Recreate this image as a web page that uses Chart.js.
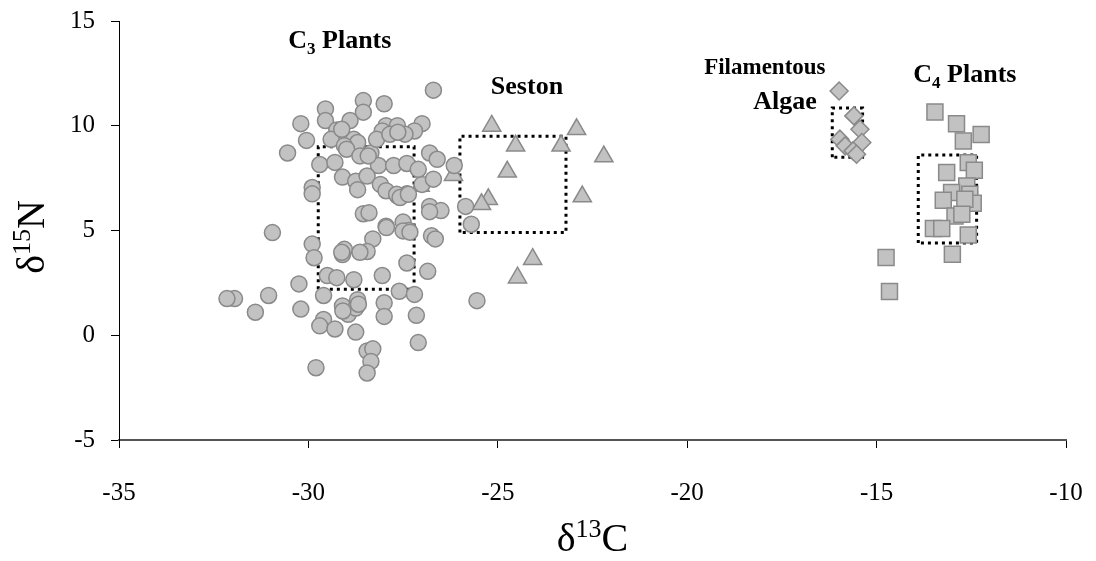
<!DOCTYPE html>
<html>
<head>
    <meta charset="utf-8"/>
    <title>Stable isotopes</title>
    <script src="https://cdn.jsdelivr.net/npm/chart.js"></script>
    <style>
        body {
            margin: 0;
            background-color: #ffffff;
        }

        #wrap {
            width: 1096px;
            height: 561px;
        }
    </style>
</head>
<body>
    <div id="wrap"><canvas id="isoChart"></canvas></div>

    <script>
        // data: [d13C, d15N]
        const c3Plants = [
            [-26.7, 11.7], [-28.55, 11.2], [-28.0, 11.05], [-29.55, 10.8], [-28.55, 10.65],
            [-29.55, 10.25], [-30.2, 10.1], [-28.9, 10.25], [-29.25, 9.8], [-27.95, 10.0],
            [-27.65, 10.0], [-27.0, 10.1], [-27.2, 9.75], [-27.45, 9.6], [-28.05, 9.75],
            [-30.05, 9.3], [-29.4, 9.35], [-28.8, 9.35], [-28.7, 9.2], [-28.35, 8.7],
            [-28.2, 9.35], [-29.05, 9.05], [-30.55, 8.7], [-26.8, 8.7], [-26.6, 8.4],
            [-26.15, 8.1], [-29.7, 8.15], [-29.3, 8.25], [-28.15, 8.1], [-27.75, 8.1],
            [-27.4, 8.2], [-29.1, 7.55], [-28.75, 7.35], [-28.7, 6.95], [-28.45, 7.6],
            [-28.1, 7.2], [-27.95, 6.9], [-27.65, 6.65], [-27.4, 6.75], [-29.9, 7.05],
            [-29.9, 6.75], [-27.0, 7.2], [-26.7, 7.45], [-26.8, 6.15], [-26.5, 5.95],
            [-26.8, 5.9], [-25.85, 6.15], [-25.7, 5.3], [-28.55, 5.8], [-28.4, 5.85],
            [-27.95, 5.2], [-27.5, 5.4], [-27.35, 5.0], [-26.75, 4.75], [-26.65, 4.6],
            [-30.95, 4.9], [-29.9, 4.35], [-29.85, 3.7], [-29.05, 4.1], [-29.1, 3.85],
            [-28.3, 4.6], [-28.45, 4.0], [-27.4, 3.45], [-26.85, 3.05], [-29.5, 2.85],
            [-29.25, 2.75], [-28.8, 2.65], [-28.05, 2.85], [-30.25, 2.45], [-27.6, 2.1],
            [-27.2, 1.95], [-29.6, 1.9], [-28.7, 1.7], [-31.05, 1.9], [-31.95, 1.75],
            [-32.15, 1.75], [-31.4, 1.1], [-30.2, 1.25], [-29.1, 1.4], [-28.95, 1.0],
            [-28.75, 1.3], [-28.0, 1.55], [-27.15, 0.95], [-28.0, 0.9], [-29.6, 0.75],
            [-29.7, 0.45], [-29.3, 0.3], [-28.75, 0.15], [-27.1, -0.35], [-28.45, -0.75],
            [-28.3, -0.65], [-28.35, -1.25], [-28.45, -1.8], [-29.8, -1.55], [-25.55, 1.65],
            [-28.99, 8.88], [-28.64, 8.56], [-28.42, 8.56], [-27.85, 9.59], [-27.64, 9.69],
            [-27.1, 7.92], [-27.67, 6.73], [-27.58, 6.57], [-27.36, 6.73], [-29.12, 9.83],
            [-27.94, 5.14], [-27.5, 4.98], [-27.32, 4.92], [-29.09, 1.16], [-28.68, 1.48],
            [-29.12, 3.96], [-28.64, 3.96]
        ];

        const seston = [
            [-25.16, 9.99], [-22.92, 9.83], [-24.53, 9.04], [-23.33, 9.04], [-22.2, 8.53],
            [-24.75, 7.8], [-26.17, 7.64], [-27.05, 7.13], [-25.25, 6.49], [-25.43, 6.25],
            [-22.77, 6.62], [-24.08, 3.63], [-24.48, 2.75]
        ];

        const algae = [
            [-15.99, 11.66], [-15.6, 10.47], [-15.44, 9.83], [-15.97, 9.36],
            [-15.83, 9.04], [-15.39, 9.2], [-15.62, 8.8], [-15.53, 8.64]
        ];

        const c4Plants = [
            [-13.46, 10.66], [-12.89, 10.1], [-12.24, 9.58], [-12.71, 9.27], [-12.58, 8.24],
            [-12.42, 7.88], [-13.15, 7.77], [-12.62, 7.13], [-13.02, 6.81], [-13.24, 6.44],
            [-12.54, 6.73], [-12.45, 6.3], [-12.67, 6.49], [-12.93, 5.69], [-12.75, 5.78],
            [-13.5, 5.09], [-13.28, 5.09], [-12.58, 4.79], [-13.0, 3.87], [-14.75, 3.71],
            [-14.66, 2.09]
        ];

        // dotted boxes: [xMin, xMax, yMin, yMax]
        const c3Box = [-29.74, -27.21, 2.2, 9.0];
        const sestonBox = [-26.0, -23.2, 4.9, 9.5];
        const algaeBox = [-16.17, -15.37, 8.5, 10.85];
        const c4Box = [-13.9, -12.36, 4.4, 8.6];

        const xTicks = [-35, -30, -25, -20, -15, -10];
        const yTicks = [-5, 0, 5, 10, 15];

        // group labels: [x, y, main, sub, rest, font size]
        const groupLabels = [
            [-29.17, 14.03, 'C', '3', ' Plants', 26],
            [-24.23, 11.84, 'Seston', '', '', 26],
            [-17.95, 12.75, 'Filamentous', '', '', 23],
            [-17.42, 11.12, 'Algae', '', '', 26],
            [-12.67, 12.41, 'C', '4', ' Plants', 26]
        ];

        const fill = '#c2c2c2';
        const edge = '#8a8a8a';
        const serif = '"Liberation Serif", "Times New Roman", serif';

        function toPts(arr) {
            return arr.map(p => ({ x: p[0], y: p[1] }));
        }

        function boxPts(b) {
            return [
                { x: b[0], y: b[2] }, { x: b[0], y: b[3] }, { x: b[1], y: b[3] },
                { x: b[1], y: b[2] }, { x: b[0], y: b[2] }
            ];
        }

        function boxSet(b) {
            return {
                type: 'line',
                data: boxPts(b),
                showLine: true,
                borderColor: '#000',
                borderWidth: 3,
                borderDash: [3, 4],
                pointRadius: 0,
                fill: false,
                tension: 0
            };
        }

        // draws text with a subscript or superscript part, centred on x
        function drawParts(ctx, parts, x, y) {
            let total = 0;
            parts.forEach(p => {
                ctx.font = p.font;
                p.w = ctx.measureText(p.t).width;
                total += p.w;
            });
            let cx = x - total / 2;
            parts.forEach(p => {
                ctx.font = p.font;
                ctx.fillText(p.t, cx, y + (p.dy || 0));
                cx += p.w;
            });
        }

        const labelPlugin = {
            id: 'labels',
            afterDraw(chart) {
                const ctx = chart.ctx;
                const xs = chart.scales.x;
                const ys = chart.scales.y;
                ctx.save();
                ctx.fillStyle = '#000';
                ctx.textAlign = 'left';
                ctx.textBaseline = 'middle';

                groupLabels.forEach(l => {
                    const px = xs.getPixelForValue(l[0]);
                    const py = ys.getPixelForValue(l[1]);
                    const bold = 'bold ' + l[5] + 'px ' + serif;
                    const parts = [{ t: l[2], font: bold }];
                    if (l[3]) parts.push({ t: l[3], font: 'bold ' + Math.round(l[5] * 0.65) + 'px ' + serif, dy: 8 });
                    if (l[4]) parts.push({ t: l[4], font: bold });
                    drawParts(ctx, parts, px, py);
                });

                // axis titles
                const big = '40px ' + serif;
                const sup = '26px ' + serif;
                drawParts(ctx, [
                    { t: 'δ', font: big },
                    { t: '13', font: sup, dy: -10 },
                    { t: 'C', font: big }
                ], (xs.left + xs.right) / 2, 540);

                ctx.translate(33, 237);
                ctx.rotate(-Math.PI / 2);
                drawParts(ctx, [
                    { t: 'δ', font: big },
                    { t: '15', font: sup, dy: -10 },
                    { t: 'N', font: big }
                ], 0, 0);
                ctx.restore();
            }
        };

        const tickFont = { family: serif, size: 25 };

        new Chart(document.getElementById('isoChart'), {
            type: 'scatter',
            data: {
                datasets: [
                    {
                        label: 'C3 Plants',
                        data: toPts(c3Plants),
                        pointStyle: 'circle',
                        pointRadius: 8,
                        backgroundColor: fill,
                        borderColor: edge,
                        borderWidth: 1.5
                    },
                    {
                        label: 'Seston',
                        data: toPts(seston),
                        pointStyle: 'triangle',
                        pointRadius: 10.5,
                        backgroundColor: fill,
                        borderColor: edge,
                        borderWidth: 1.5
                    },
                    {
                        label: 'Filamentous Algae',
                        data: toPts(algae),
                        pointStyle: 'rectRot',
                        pointRadius: 9,
                        backgroundColor: fill,
                        borderColor: edge,
                        borderWidth: 1.5
                    },
                    {
                        label: 'C4 Plants',
                        data: toPts(c4Plants),
                        pointStyle: 'rect',
                        pointRadius: 11.3,
                        backgroundColor: fill,
                        borderColor: edge,
                        borderWidth: 1.5
                    },
                    boxSet(c3Box),
                    boxSet(sestonBox),
                    boxSet(algaeBox),
                    boxSet(c4Box)
                ]
            },
            options: {
                responsive: true,
                maintainAspectRatio: false,
                animation: false,
                layout: { padding: { top: 21, right: 30, left: 0, bottom: 0 } },
                plugins: {
                    legend: { display: false },
                    tooltip: { enabled: false }
                },
                scales: {
                    x: {
                        type: 'linear',
                        min: -35,
                        max: -10,
                        afterFit: s => {
                            s.height = 121;
                            s.paddingLeft = 0;
                            s.paddingRight = 0;
                        },
                        afterBuildTicks: s => { s.ticks = xTicks.map(v => ({ value: v })); },
                        ticks: { font: tickFont, color: '#000', padding: 30 },
                        grid: { drawOnChartArea: false, drawTicks: true, tickLength: 8, color: '#000' },
                        border: { display: true, color: '#555', width: 2 }
                    },
                    y: {
                        type: 'linear',
                        min: -5,
                        max: 15,
                        afterFit: s => {
                            s.width = 119;
                            s.paddingTop = 0;
                            s.paddingBottom = 0;
                        },
                        afterBuildTicks: s => { s.ticks = yTicks.map(v => ({ value: v })); },
                        ticks: { font: tickFont, color: '#000', padding: 16 },
                        grid: { drawOnChartArea: false, drawTicks: true, tickLength: 8, color: '#000' },
                        border: { display: true, color: '#000', width: 1 }
                    }
                }
            },
            plugins: [labelPlugin]
        });
    </script>
</body>
</html>
